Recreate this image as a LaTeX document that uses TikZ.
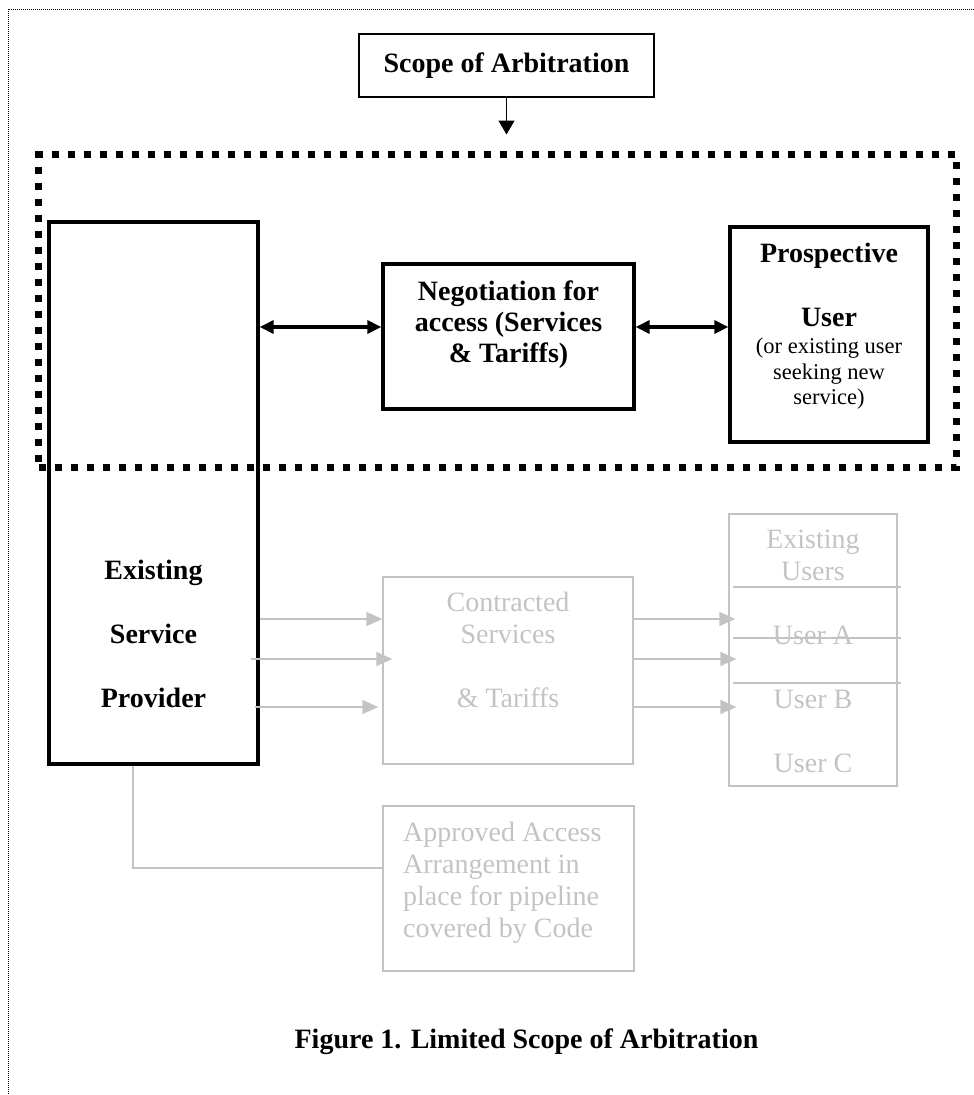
\documentclass[tikz,border=0pt]{standalone}
\usepackage{fontspec}
\setmainfont{Liberation Serif}
\usetikzlibrary{arrows.meta}
\definecolor{faded}{RGB}{195,195,195}

\begin{document}
\begin{tikzpicture}[x=1pt,y=-1pt,
    box/.style={shape=rectangle,draw=black,line width=3.3pt,inner sep=0pt},
    greybox/.style={shape=rectangle,draw=faded,line width=1.4pt,inner sep=0pt},
    txt/.style={font=\fontsize{28}{32}\selectfont,align=center,inner sep=0pt},
    greyarrow/.style={color=faded,line width=1.4pt,-{Triangle[length=16pt,width=14pt]}},
    bigarrow/.style={line width=3.3pt,{Triangle[length=14pt,width=13pt]}-{Triangle[length=14pt,width=13pt]}}]
    \useasboundingbox (0,0) rectangle (974,1095);
    \draw[line width=0.8pt,dash pattern=on 1pt off 1pt] (8,9) rectangle (980,1101);
    % boxes
    \node[shape=rectangle,draw=black,line width=7pt,dash pattern=on 7pt off 9pt,minimum width=917.5pt,minimum height=313pt,inner sep=0pt] (area) at (497.25,311) {};
    \node[shape=rectangle,draw=black,line width=1.2pt,minimum width=295pt,minimum height=63pt,inner sep=0pt,font=\fontsize{28}{32}\selectfont\bfseries] (scope) at (506.5,65.5) {Scope of Arbitration};
    \node[box,minimum width=209pt,minimum height=542pt] (prov) at (153.5,493) {};
    \node[box,minimum width=251pt,minimum height=145pt] (neg) at (508.5,336.5) {};
    \node[box,minimum width=198pt,minimum height=215pt] (user) at (829,334.5) {};
    \node[greybox,minimum width=250pt,minimum height=187pt] (contr) at (508,670.5) {};
    \node[greybox,minimum width=168pt,minimum height=272pt] (exist) at (813,650) {};
    \node[greybox,minimum width=251pt,minimum height=165pt] (appr) at (508.5,888.5) {};
    % texts
    \node[txt,font=\fontsize{28}{64}\selectfont\bfseries] (provtxt) at (153.5,634.4) {Existing\\Service\\Provider};
    \node[txt,font=\fontsize{28}{31}\selectfont\bfseries] (negtxt) at (508.5,324.4) {Negotiation for\\access (Services\\\& Tariffs)};
    \node[txt,font=\fontsize{28}{64}\selectfont\bfseries] (usertxt) at (829,285) {Prospective\\User};
    \node[txt,font=\fontsize{22.5}{25.5}\selectfont] (usernote) at (829,374) {(or existing user\\seeking new\\service)};
    \node[txt,text=faded] (contrtxt) at (508,650.4) {Contracted\\Services\\[32pt]\& Tariffs};
    \node[txt,text=faded] (existtxt) at (813,651.7) {Existing\\Users\\[32pt]User A\\[32pt]User B\\[32pt]User C};
    \node[txt,text=faded,align=left,anchor=west] (apprtxt) at (403,882.9) {Approved Access\\Arrangement in\\place for pipeline\\covered by Code};
    \node[txt,font=\fontsize{28}{32}\selectfont\bfseries,anchor=base] (caption) at (526.5,1048) {Figure 1. Limited Scope of Arbitration};
    \foreach \y in {587,638,683} \draw[faded,line width=1.4pt] (733,\y) -- (901,\y);
    % connectors
    \coordinate (mid) at (0,327);
    \coordinate (r1) at (0,619);
    \coordinate (r2) at (0,659);
    \coordinate (r3) at (0,707);
    \coordinate (r4) at (0,868);
    \draw[line width=1.3pt,-{Triangle[length=14pt,width=16pt]},shorten >=16.5pt] (scope.south) -- (scope.south |- area.north);
    \path [bigarrow] (prov.east |- mid) edge (neg.west |- mid);
    \path [bigarrow] (neg.east |- mid) edge (user.west |- mid);
    \path [greyarrow] (prov.east |- r1) edge (contr.west |- r1);
    \path [greyarrow] (prov.east |- r2) edge[shorten <=-9pt,shorten >=-10pt] (contr.west |- r2);
    \path [greyarrow] (prov.east |- r3) edge[shorten <=-5pt,shorten >=4pt] (contr.west |- r3);
    \path [greyarrow] (contr.east |- r1) edge[shorten >=-7pt] (exist.west |- r1);
    \path [greyarrow] (contr.east |- r2) edge[shorten >=-8pt] (exist.west |- r2);
    \path [greyarrow] (contr.east |- r3) edge[shorten >=-8pt] (exist.west |- r3);
    \draw[faded,line width=1.4pt] ([xshift=-20.5pt]prov.south) |- (appr.west |- r4);
\end{tikzpicture}
\end{document}
